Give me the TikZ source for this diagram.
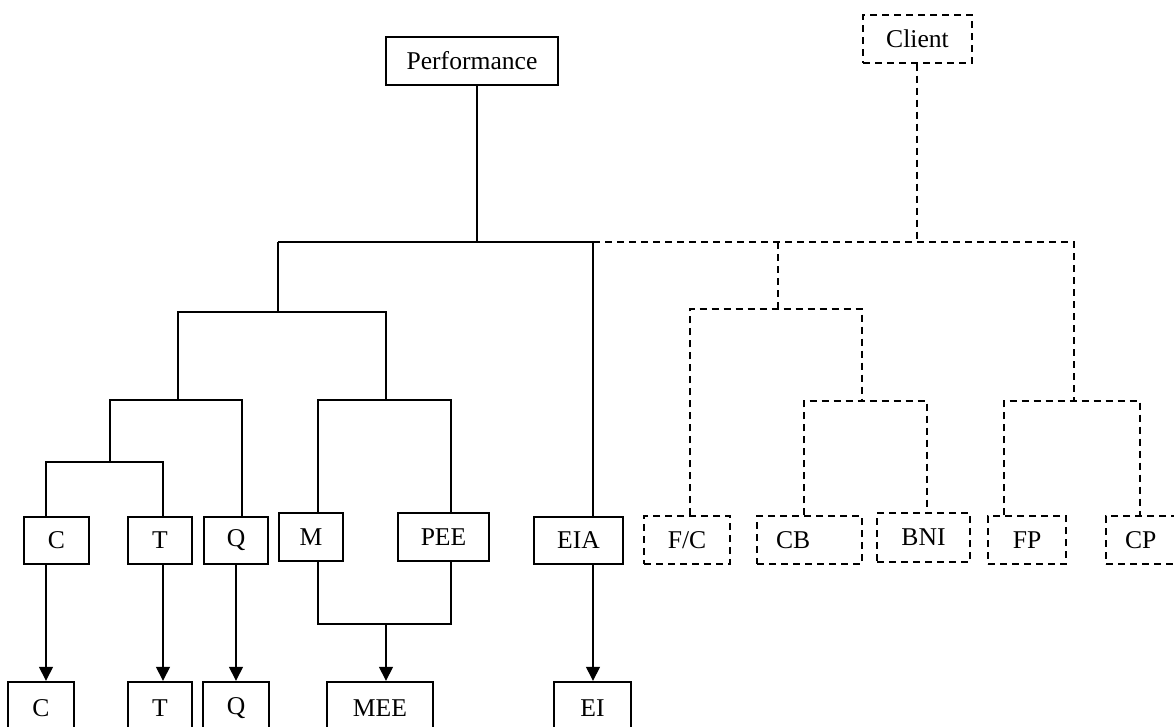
\documentclass[tikz,border=0pt]{standalone}
\usepackage{fontspec}
\setmainfont{Liberation Serif}
\usetikzlibrary{arrows.meta}
\begin{document}
\begin{tikzpicture}[x=1pt,y=-1pt,
  box/.style={draw, line width=1.4pt, inner sep=0pt, font=\fontsize{25.6}{30}\selectfont},
  dbox/.style={box, dash pattern=on 7pt off 5pt},
  obox/.style={box, line width=2.4pt, minimum height=52pt},
  ln/.style={line width=1.4pt},
  dln/.style={line width=1.4pt, dash pattern=on 7pt off 5pt},
  arr/.style={ln, -{Triangle[width=14pt,length=14pt]}}]
\clip (0,0) rectangle (1174,726);
\fill[white] (0,0) rectangle (1174,726);
% top nodes
\node[box, minimum width=172pt, minimum height=48pt] (perf) at (472,61) {Performance};
\node[dbox, minimum width=109pt, minimum height=48pt] (client) at (917.5,39) {Client};
% middle row
\node[box, minimum width=65pt, minimum height=47pt] (c1) at (56.5,540.5) {C};
\node[box, minimum width=64pt, minimum height=47pt] (t1) at (160,540.5) {T};
\node[box, minimum width=64pt, minimum height=47pt] (q1) at (236,540.5) {Q};
\node[box, minimum width=64pt, minimum height=48pt] (m) at (311,537) {M};
\node[box, minimum width=91pt, minimum height=48pt] (pee) at (443.5,537) {PEE};
\node[box, minimum width=89pt, minimum height=47pt] (eia) at (578.5,540.5) {EIA};
\node[dbox, minimum width=86pt, minimum height=48pt] (fc) at (687,540) {F/C};
\node[dbox, minimum height=48pt, text width=67pt, align=left, inner xsep=19pt] (cb) at (809.5,540) {CB};
\node[dbox, minimum width=93pt, minimum height=49pt] (bni) at (923.5,537.5) {BNI};
\node[dbox, minimum width=78pt, minimum height=48pt] (fp) at (1027,540) {FP};
\node[dbox, minimum height=48pt, text width=52pt, align=left, inner xsep=19pt] (cp) at (1151,540) {CP};
% bottom row
\node[obox, minimum width=66pt] (c2) at (41,708) {C};
\node[obox, minimum width=64pt] (t2) at (160,708) {T};
\node[obox, minimum width=66pt] (q2) at (236,708) {Q};
\node[obox, minimum width=106pt] (mee) at (380,708) {MEE};
\node[obox, minimum width=77pt] (ei) at (592.5,708) {EI};
% junctions
\coordinate (t0) at (477,242);
\coordinate (tL) at (278,242);
\coordinate (tE) at (593,242);
\coordinate (tC) at (917,242);
\coordinate (tM) at (778,242);
\coordinate (tR) at (1074,242);
\coordinate (aL) at (178,312);
\coordinate (aM) at (278,312);
\coordinate (aR) at (386,312);
\coordinate (bL) at (110,400);
\coordinate (bM) at (178,400);
\coordinate (bR) at (242,400);
\coordinate (cL) at (46,462);
\coordinate (cM) at (110,462);
\coordinate (cR) at (163,462);
\coordinate (dL) at (318,400);
\coordinate (dM) at (386,400);
\coordinate (dR) at (451,400);
\coordinate (eL) at (318,624);
\coordinate (eM) at (386,624);
\coordinate (eR) at (451,624);
\coordinate (fL) at (690,309);
\coordinate (fM) at (778,309);
\coordinate (fR) at (862,309);
\coordinate (gL) at (804,401);
\coordinate (gM) at (862,401);
\coordinate (gR) at (927,401);
\coordinate (hL) at (1004,401);
\coordinate (hM) at (1074,401);
\coordinate (hR) at (1140,401);
% solid connectors
\draw[ln] (perf.south -| t0) -- (t0);
\draw[ln] (tL) -- (tE) -- (eia.north -| tE);
\draw[ln] (tL) -- (aM);
\draw[ln] (bM) -- (aL) -- (aR) -- (dM);
\draw[ln] (cM) -- (bL) -- (bR) -- (q1.north -| bR);
\draw[ln] (c1.north -| cL) -- (cL) -- (cR) -- (t1.north -| cR);
\draw[ln] (m.north -| dL) -- (dL) -- (dR) -- (pee.north -| dR);
\draw[ln] (m.south -| eL) -- (eL) -- (eR) -- (pee.south -| eR);
\draw[arr] (eM) -- (mee.north -| eM);
\draw[arr] (c1.south -| cL) -- (c2.north -| cL);
\draw[arr] (t1.south -| cR) -- (t2.north -| cR);
\draw[arr] (q1.south) -- (q2.north);
\draw[arr] (eia.south -| tE) -- (ei.north -| tE);
% dashed connectors
\draw[dln] (client.south -| tC) -- (tC);
\draw[dln] (tE) -- (tR) -- (hM);
\draw[dln] (tM) -- (fM);
\draw[dln] (fc.north -| fL) -- (fL) -- (fR) -- (gM);
\draw[dln] (cb.north -| gL) -- (gL) -- (gR) -- (bni.north -| gR);
\draw[dln] (fp.north -| hL) -- (hL) -- (hR) -- (cp.north -| hR);
\end{tikzpicture}
\end{document}
